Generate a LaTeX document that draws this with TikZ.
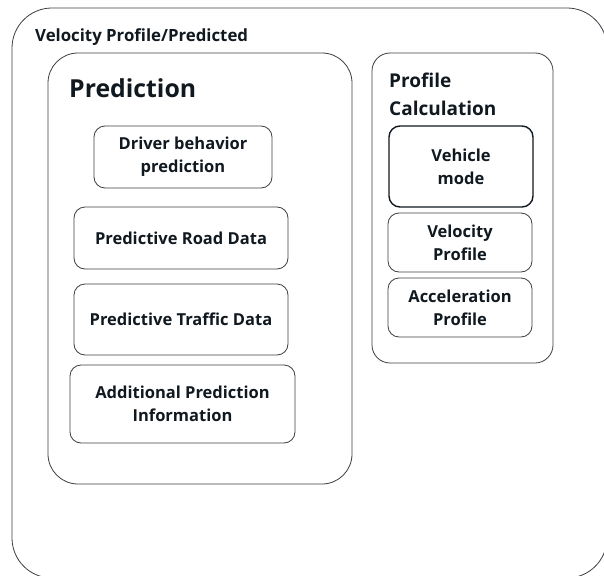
\documentclass[tikz,border=0pt]{standalone}
\usepackage{fontspec}
\setmainfont{Open Sans}
\begin{document}
\begin{tikzpicture}[x=1pt,y=-1pt,
  every node/.style={font=\bfseries, text=inkc},
  frame/.style={draw=linec, line width=0.8pt},
  item/.style={frame, rectangle, rounded corners=11pt, align=center, inner sep=0pt,
    font=\bfseries\fontsize{16.5}{23}\selectfont},
  group/.style={frame, rectangle, inner sep=0pt},
  heading/.style={anchor=west, inner sep=0pt, align=left}]
\definecolor{inkc}{HTML}{101820}
\definecolor{linec}{HTML}{3A3F44}
\clip (0,0) rectangle (604,575);
\fill[white] (0,0) rectangle (604,575);

% outer frame, running past the right and bottom edges
\node[group, rounded corners=40pt, minimum width=595pt, minimum height=570pt] (outer) at (309.5,293) {};
\node[heading, font=\bfseries\fontsize{16.8}{20}\selectfont] (outertitle) at (35,37) {Velocity Profile/Predicted};

% prediction group
\node[group, rounded corners=30pt, minimum width=304pt, minimum height=431pt] (pred) at (200,268.5) {};
\node[heading, font=\bfseries\fontsize{24.8}{30}\selectfont] (predtitle) at (69,88) {Prediction};
\node[item, minimum width=178pt, minimum height=62pt] (driver) at (183,157) {Driver behavior\\prediction};
\node[item, minimum width=214pt, minimum height=62pt] (road) at (181,238) {Predictive Road Data};
\node[item, minimum width=214pt, minimum height=71pt] (traffic) at (181,319.5) {Predictive Traffic Data};
\node[item, minimum width=225pt, minimum height=78pt] (addinfo) at (182.5,404) {Additional Prediction\\Information};

% profile calculation group
\node[group, rounded corners=18pt, minimum width=181pt, minimum height=310pt] (prof) at (462.5,208) {};
\node[heading, font=\bfseries\fontsize{19}{28}\selectfont] (proftitle) at (389,94) {Profile\\Calculation};
\node[item, line width=1.4pt, draw=inkc, minimum width=144pt, minimum height=81pt] (vehicle) at (461,166.5) {Vehicle\\mode};
\node[item, minimum width=144pt, minimum height=59pt] (velocity) at (460,242.5) {Velocity\\Profile};
\node[item, minimum width=144pt, minimum height=59pt] (accel) at (460,307.5) {Acceleration\\Profile};
\end{tikzpicture}
\end{document}
